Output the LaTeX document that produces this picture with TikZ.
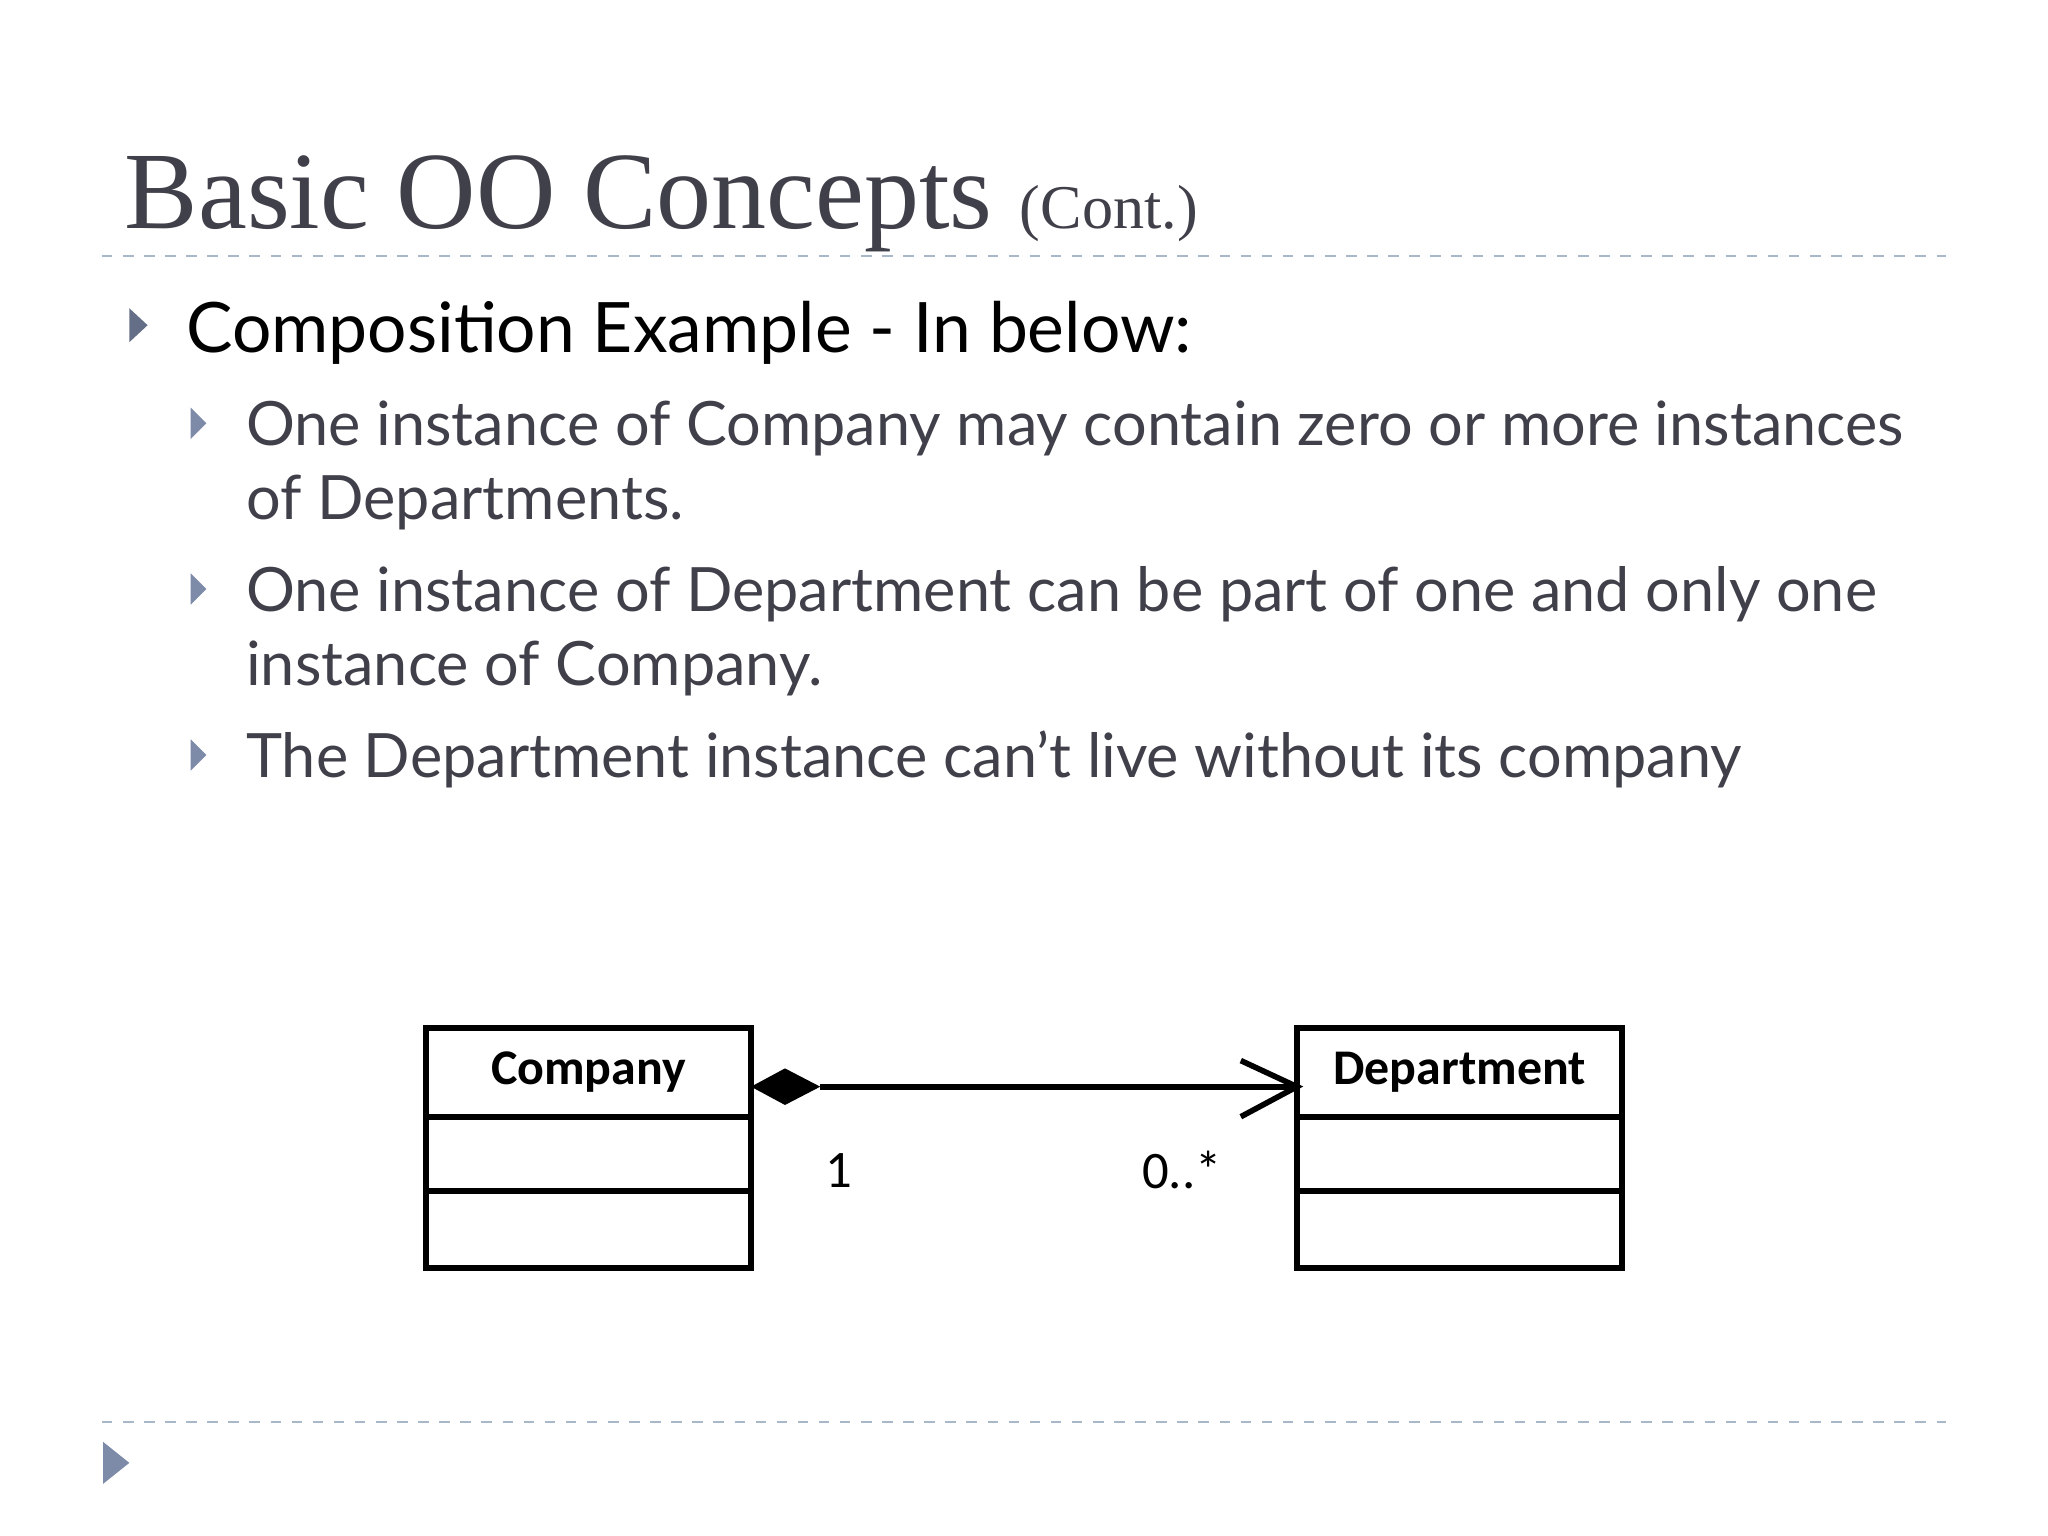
\documentclass[tikz,border=0pt]{standalone}
\usepackage{fontspec}
\setmainfont{Lato}
\newfontfamily\titlefont{Liberation Serif}
\newfontfamily\umlfont{Carlito}
\definecolor{txt}{HTML}{40404A}
\definecolor{bul}{HTML}{7D8AA8}
\definecolor{dashcol}{HTML}{A9B8C8}
\begin{document}
\begin{tikzpicture}[x=0.013061cm,y=-0.013061cm,
  lvltwo/.style={anchor=base west,inner sep=0,text=txt,font=\fontsize{17.4}{21}\selectfont},
  lbl/.style={font=\umlfont\fontsize{15}{18}\selectfont,inner sep=0}]
\useasboundingbox (0,0) rectangle (1568,1176);
\fill[white] (0,0) rectangle (1568,1176);
% title
\node[anchor=base west,inner sep=0,text=txt] (title) at (95,175)
  {\titlefont\fontsize{31.3}{34}\selectfont Basic OO Concepts \fontsize{17.7}{20}\selectfont(Cont.)};
\draw[dashcol,dashed,line width=0.6pt] (78,196) -- (1490,196);
\draw[dashcol,dashed,line width=0.6pt] (78,1089) -- (1490,1089);
% bullets
\fill[bul!80!black] (99,236) -- (113,249) -- (99,262) -- cycle;
\node[anchor=base west,inner sep=0,font=\fontsize{19.8}{24}\selectfont] (l1) at (142,270) {Composition Example - In below:};
\foreach \y in {312,439,566} \fill[bul] (146,\y) -- (158,\y+12) -- (146,\y+24) -- cycle;
\node[lvltwo] (a1) at (188,341) {One instance of Company may contain zero or more instances};
\node[lvltwo] (a2) at (188,398) {of Departments.};
\node[lvltwo] (b1) at (188,468) {One instance of Department can be part of one and only one};
\node[lvltwo] (b2) at (188,525) {instance of Company.};
\node[lvltwo] (c1) at (188,595) {The Department instance can’t live without its company};
\fill[bul] (79,1104) -- (99,1120) -- (79,1136) -- cycle;
% UML
\foreach \n/\x/\t in {c/326/Company,d/993/Department}{
  \draw[line width=1.6pt] (\x,787) rectangle (\x+249,971);
  \draw[line width=1.6pt] (\x,855) -- (\x+249,855) (\x,912) -- (\x+249,912);
  \node[lbl,font=\umlfont\bfseries\fontsize{14.2}{17}\selectfont] (\n) at (\x+124.5,821) {\t};
}
\coordinate (cR) at (575,832);
\coordinate (dL) at (993,832);
\fill (cR) -- (601,818) -- (628,832) -- (601,846) -- cycle;
\draw[line width=1.6pt] (628,832) -- (dL);
\draw[line width=1.6pt] (950,812) -- (dL) -- (950,855);
\node[lbl] (m1) at (642,896) {1};
\node[lbl] (m2) at (905,896) {0..*};
\end{tikzpicture}
\end{document}
